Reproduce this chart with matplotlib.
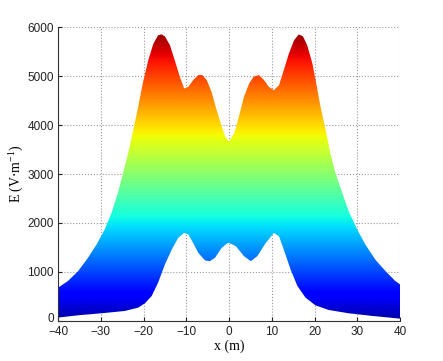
import numpy as np
import matplotlib
matplotlib.use("Agg")
import matplotlib.pyplot as plt
import matplotlib.transforms as mtransforms
from matplotlib.path import Path
from matplotlib.patches import PathPatch

# Upper envelope of E (V/m) vs x (m)
upper_x = [-40, -37.7, -35.3, -33.0, -31.0, -29.1, -27.5, -25.9, -24.8, -23.6, -22.4,
           -21.25, -20.1, -18.9, -17.7, -16.6, -15.8, -15.0, -13.8, -12.7, -11.5, -10.5,
           -9.5, -8.4, -7.2, -6.25, -5.2, -4.1, -2.9, -1.7, -0.9, 0,
           1.2, 2.3, 3.5, 4.7, 5.8, 7.0, 8.2, 9.3, 10.5, 11.7, 12.8, 14.0, 15.2, 16.3,
           17.3, 18.3, 19.5, 20.4, 21.4, 22.6, 23.7, 24.9, 26.5, 28.0, 30.0, 31.9, 34.2,
           36.6, 38.9, 40]
upper_y = [678, 814, 1017, 1288, 1559, 1865, 2204, 2644, 3017, 3424, 3899,
           4373, 4882, 5322, 5661, 5831, 5851, 5810, 5627, 5322, 4983, 4746,
           4780, 4916, 5020, 5020, 4916, 4678, 4305, 3966, 3763, 3661,
           3831, 4170, 4577, 4848, 4990, 5020, 4916, 4780, 4712, 4814, 5119, 5458, 5729, 5851,
           5810, 5627, 5254, 4848, 4373, 3899, 3424, 3017, 2610, 2237, 1865, 1559, 1254,
           1017, 814, 746]

# Lower envelope
lower_x = [-40, -35.3, -29.9, -24.4, -21.25, -19.7, -18.1, -16.6, -15.0, -13.4, -11.9,
           -10.5, -9.5, -8.4, -7.2, -5.6, -4.5, -3.3, -1.7, -0.5, 0,
           1.6, 3.5, 5.1, 6.6, 8.6, 10.5, 11.7, 12.8, 14.4, 16.0, 17.9, 20.2, 23.3, 28.0,
           33.5, 40]
lower_y = [68, 115, 156, 203, 271, 359, 508, 780, 1153, 1458, 1695,
           1797, 1763, 1593, 1390, 1234, 1220, 1288, 1492, 1580, 1593,
           1526, 1322, 1220, 1322, 1593, 1797, 1729, 1458, 1051, 712, 475, 319, 224, 156,
           102, 47]

xticks = [-40, -30, -20, -10, 0, 10, 20, 30, 40]
yticks = [0, 1000, 2000, 3000, 4000, 5000, 6000]

fig = plt.figure(figsize=(4.43, 3.61), dpi=100)
ax = fig.add_axes([0.131, 0.111, 0.772, 0.814])

grad = np.linspace(0, 6000, 600).reshape(-1, 1)
im = ax.imshow(grad, extent=[-40, 40, 0, 6000], origin='lower', aspect='auto',
               cmap='jet', vmin=-200, vmax=6000, interpolation='bilinear', zorder=2)

verts = list(zip(upper_x, upper_y)) + list(zip(lower_x[::-1], lower_y[::-1]))
path = Path(verts + [verts[0]], closed=True)
patch = PathPatch(path, facecolor='none', edgecolor='none', transform=ax.transData)
ax.add_patch(patch)
im.set_clip_path(patch)

ax.set_xlim(-40, 40)
ax.set_ylim(0, 6000)
ax.set_xticks(xticks)
ax.set_yticks(yticks)
ax.tick_params(direction='in', length=3, labelsize=8.5, colors='#222222')
ax.tick_params(axis='x', pad=4)
ax.tick_params(axis='y', pad=3)
for lab in ax.get_xticklabels() + ax.get_yticklabels():
    lab.set_fontfamily('Liberation Sans')

# nudge the y "0" label up slightly so it does not collide with "-40"
ylabs = ax.get_yticklabels()
ylabs[0].set_transform(ylabs[0].get_transform() +
                       mtransforms.ScaledTranslation(0, 2.5 / 72, fig.dpi_scale_trans))

ax.grid(True, linestyle=':', color='#999999', linewidth=0.8)
ax.set_axisbelow(True)
ax.spines['top'].set_visible(False)
ax.spines['right'].set_visible(False)
for s in ['left', 'bottom']:
    ax.spines[s].set_color('#333333')
    ax.spines[s].set_linewidth(0.8)

ax.set_xlabel('x (m)', fontfamily='Liberation Serif', fontsize=10, labelpad=1)
ax.set_ylabel(r'E (V$\cdot$m$^{\mathregular{-1}}$)', fontfamily='Liberation Serif',
              fontsize=10, labelpad=2)

fig.savefig('out.png', dpi=100)
